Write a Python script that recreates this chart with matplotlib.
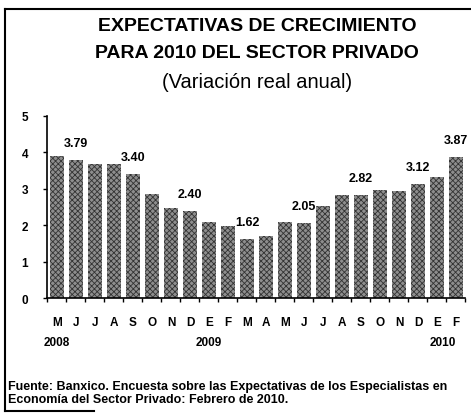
import matplotlib
matplotlib.use("Agg")
import matplotlib.pyplot as plt
from matplotlib.lines import Line2D

# Expectativas de crecimiento 2010 (variación real anual, %)
months = ["M", "J", "J", "A", "S", "O", "N", "D",
          "E", "F", "M", "A", "M", "J", "J", "A", "S", "O", "N", "D",
          "E", "F"]
values = [3.91, 3.79, 3.68, 3.68, 3.40, 2.85, 2.46, 2.40,
          2.10, 1.99, 1.62, 1.71, 2.08, 2.05, 2.54, 2.84, 2.82, 2.96, 2.94, 3.12,
          3.33, 3.87]
labeled = [1, 4, 7, 10, 13, 16, 19, 21]
years = ["2008", "2009", "2010"]
year_pos = [0, 8, 20.3]

title_lines = ["EXPECTATIVAS DE CRECIMIENTO", "PARA 2010 DEL SECTOR PRIVADO"]
subtitle = "(Variación real anual)"
source = ["Fuente: Banxico. Encuesta sobre las Expectativas de los Especialistas en",
          "Economía del Sector Privado: Febrero de 2010."]

plt.rcParams["font.family"] = ["Liberation Sans", "DejaVu Sans"]
plt.rcParams["hatch.linewidth"] = 0.6

fig = plt.figure(figsize=(4.71, 4.14), dpi=100)
ax = fig.add_axes([0.1008, 0.2771, 0.8875, 0.441])

x = list(range(len(values)))
ax.bar(x, values, width=0.74, color="#8e8e8e", edgecolor="#333333",
       linewidth=0, hatch="xxxxxx")

for i in labeled:
    ax.annotate(f"{values[i]:.2f}", (x[i], values[i]), xytext=(0, 8),
                textcoords="offset points", ha="center", va="bottom",
                fontsize=9, fontweight="bold")

ax.set_xlim(-0.5, len(values) - 0.5)
ax.set_ylim(0, 5)
ax.set_yticks(range(6))
ax.tick_params(axis="y", direction="out", length=3, width=1, pad=11,
               labelsize=8.5)
for t in ax.get_yticklabels():
    t.set_fontweight("bold")

ax.set_xticks(x)
ax.set_xticklabels(months, fontsize=8.5, fontweight="bold")
ax.tick_params(axis="x", length=0, pad=13)
ax.set_xticks([i - 0.5 for i in range(len(values) + 1)], minor=True)
ax.tick_params(axis="x", which="minor", direction="out", length=3, width=1)

for name, pos in zip(years, year_pos):
    ax.annotate(name, (pos, 0), xycoords=("data", "axes fraction"),
                xytext=(0, -27), textcoords="offset points",
                ha="center", va="top", fontsize=8.5, fontweight="bold")

for side in ("top", "right"):
    ax.spines[side].set_visible(False)
for side in ("left", "bottom"):
    ax.spines[side].set_linewidth(1.2)

fig.text(0.546, 0.937, title_lines[0], ha="center", va="center",
         fontsize=14, fontweight="bold")
fig.text(0.546, 0.870, title_lines[1], ha="center", va="center",
         fontsize=14, fontweight="bold")
fig.text(0.546, 0.800, subtitle, ha="center", va="center", fontsize=14.5)

fig.text(0.018, 0.066, source[0], ha="left", va="center", fontsize=9,
         fontweight="bold")
fig.text(0.018, 0.035, source[1], ha="left", va="center", fontsize=9,
         fontweight="bold")

# page frame
frame = dict(color="black", linewidth=1.5, transform=fig.transFigure)
fig.add_artist(Line2D([0.01, 0.01], [0.005, 0.976], **frame))
fig.add_artist(Line2D([0.01, 1.0], [0.976, 0.976], **frame))
fig.add_artist(Line2D([0.01, 0.2], [0.005, 0.005], **frame))

fig.savefig("out.png", dpi=100)
